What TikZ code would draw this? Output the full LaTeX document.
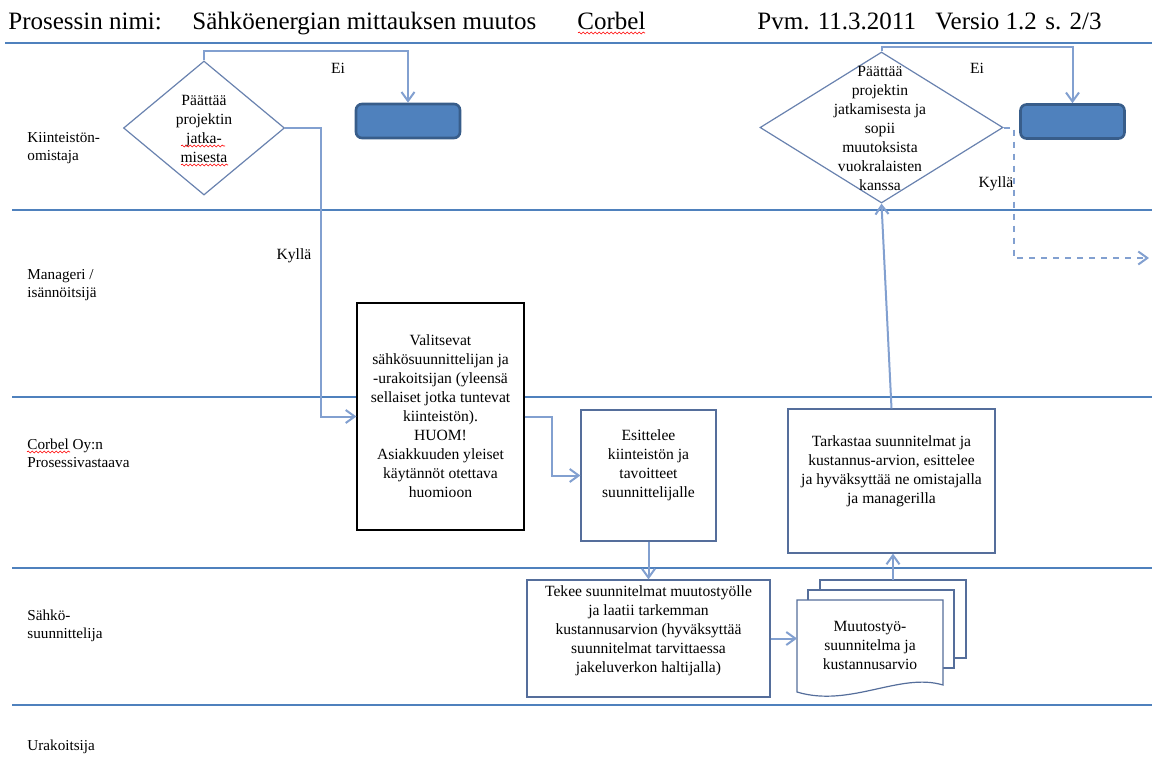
\documentclass[tikz,border=0pt]{standalone}
\usepackage{fontspec}
\setmainfont{Liberation Serif}
\usetikzlibrary{shapes.geometric}
\usetikzlibrary{arrows.meta}
\usetikzlibrary{decorations.pathmorphing}

\definecolor{lanecol}{RGB}{79,129,189}
\definecolor{conncol}{RGB}{130,160,208}
\definecolor{boxcol}{RGB}{85,110,155}
\definecolor{diacol}{RGB}{105,130,175}
\definecolor{endfill}{RGB}{79,129,189}
\definecolor{enddraw}{RGB}{56,93,138}

\newcommand{\flowfont}{\fontsize{7.8}{9.5}\selectfont}
\newcommand{\lanefont}{\fontsize{7.6}{8.8}\selectfont}
\newcommand{\headfont}{\fontsize{12.5}{15}\selectfont}

\begin{document}
\begin{tikzpicture}[x=0.5pt,y=-0.5pt,
    lane/.style={draw=lanecol,line width=0.6pt},
    conn/.style={draw=conncol,line width=1pt,-{Straight Barb[length=4.5pt,width=6.5pt]}},
    procbox/.style={draw=boxcol,fill=white,line width=0.6pt,inner sep=0pt},
    decision/.style={diamond,draw=diacol,fill=white,line width=0.6pt,inner sep=0pt},
    endbox/.style={draw=enddraw,fill=endfill,line width=1.3pt,rounded corners=3pt,inner sep=0pt,
        minimum width=52pt,minimum height=17pt},
    flowtext/.style={align=center,font=\flowfont,inner sep=0pt},
    lanelabel/.style={anchor=west,align=left,font=\lanefont,inner sep=0pt},
    headtext/.style={anchor=base west,font=\headfont,inner sep=0pt},
    squig/.style={draw=red,line width=0.3pt,decorate,decoration={snake,amplitude=0.5pt,segment length=2pt}}]
    \useasboundingbox (0,0) rectangle (1152,757);

    % header
    \node[headtext] (h1) at (8,29) {Prosessin nimi:};
    \node[headtext] (h2) at (192,29) {Sähköenergian mittauksen muutos};
    \node[headtext] (h3) at (577,29) {Corbel};
    \node[headtext] (h4) at (757,29) {Pvm. 11.3.2011};
    \node[headtext] (h5) at (935,29) {Versio 1.2};
    \node[headtext] (h6) at (1045,29) {s. 2/3};
    \draw[squig] (578,33) -- (645,33);
    \draw[lane] (5,43) -- (1152,43);

    % swimlanes
    \foreach \ly in {210,397,568,705}
        \draw[lane] (12,\ly) -- (1152,\ly);
    \node[lanelabel] (l1) at (27,148) {Kiinteistön-\\omistaja};
    \node[lanelabel] (l2) at (27,285) {Manageri /\\isännöitsijä};
    \node[lanelabel] (l3) at (27,453) {Corbel Oy:n\\Prosessivastaava};
    \node[lanelabel] (l4) at (27,626) {Sähkö-\\suunnittelija};
    \node[lanelabel] (l5) at (27,747) {Urakoitsija};
    \draw[squig] (27,452) -- (70,452);

    % first decision
    \node[decision,minimum width=80.5pt,minimum height=67pt] (d1) at (204,128) {};
    \node[flowtext] (d1t) at (204,128.5) {Päättää\\projektin\\jatka-\\misesta};
    \draw[squig] (181,146) -- (225,146);
    \draw[squig] (181,165) -- (228,165);
    \node[endbox] (e1) at (408,121) {};

    % process boxes
    \node[procbox,draw=black,minimum width=83.5pt,minimum height=113.5pt] (valitse) at (440.5,416.5) {};
    \node[flowtext] (valitset) at (valitse.center)
        {Valitsevat\\sähkösuunnittelijan ja\\-urakoitsijan (yleensä\\sellaiset jotka tuntevat\\kiinteistön).\\HUOM!\\Asiakkuuden yleiset\\käytännöt otettava\\huomioon};
    \node[procbox,minimum width=67.5pt,minimum height=65.5pt] (esitt) at (648.5,475.5) {};
    \node[flowtext] (esittt) at ([yshift=5pt]esitt.center)
        {Esittelee\\kiinteistön ja\\tavoitteet\\suunnittelijalle};
    \node[procbox,minimum width=121.5pt,minimum height=58.5pt] (tekee) at (648.5,638.5) {};
    \node[flowtext] (tekeet) at ([yshift=4pt]tekee.center)
        {Tekee suunnitelmat muutostyölle\\ja laatii tarkemman\\kustannusarvion (hyväksyttää\\suunnitelmat tarvittaessa\\jakeluverkon haltijalla)};
    \node[procbox,minimum width=103.5pt,minimum height=72pt] (tarkasta) at (891.5,481) {};
    \node[flowtext] (tarkastat) at ([yshift=5pt]tarkasta.center)
        {Tarkastaa suunnitelmat ja\\kustannus-arvion, esittelee\\ja hyväksyttää ne omistajalla\\ja managerilla};

    % document stack
    \draw[draw=boxcol,fill=white,line width=0.6pt] (820,580) rectangle (966,658);
    \draw[draw=boxcol,fill=white,line width=0.6pt] (808,590) rectangle (954,668);
    \draw[draw=boxcol,fill=white,line width=0.6pt] (797,600) -- (943,600) -- (943,685)
        .. controls (900,672) and (850,708) .. (797,692) -- cycle;
    \node[flowtext] (doct) at (870,645) {Muutostyö-\\suunnitelma ja\\kustannusarvio};
    \coordinate (docL) at (797,638.5);
    \coordinate (docT) at (893,580);

    % second decision
    \node[decision,minimum width=121.5pt,minimum height=75.5pt] (d2) at (881.5,127.5) {};
    \node[flowtext] (d2t) at (880,128.5) {Päättää\\projektin\\jatkamisesta ja\\sopii\\muutoksista\\vuokralaisten\\kanssa};
    \node[endbox] (e2) at (1072.5,121.5) {};
    \coordinate (jatko) at (1149,258);

    % connectors
    \draw[conn] (d1.north) -- ++(0,-9) -| (e1.north);
    \draw[conn] (d1.east) -- ++(36,0) |- (valitse.west);
    \draw[conn] (valitse.east) -- ++(27,0) |- (esitt.west);
    \draw[conn] (esitt.south) -- (tekee.north);
    \draw[conn] (tekee.east) -- (docL);
    \draw[conn] (docT) -- (docT |- tarkasta.south);
    \draw[conn] (tarkasta.north) -- (d2.south);
    \draw[conn] (d2.north) -- ++(0,-4) -| (e2.north);
    \draw[conn,dashed] (d2.east) -- ++(10,0) |- (jatko);

    % labels
    \node[flowtext] (ei1) at (338,68) {Ei};
    \node[flowtext] (ky1) at (294,256) {Kyllä};
    \node[flowtext] (ei2) at (977,68) {Ei};
    \node[flowtext] (ky2) at (996,184) {Kyllä};
\end{tikzpicture}
\end{document}
